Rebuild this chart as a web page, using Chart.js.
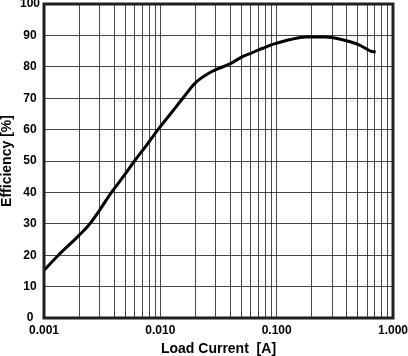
<!DOCTYPE html>
<html>
<head>
<meta charset="utf-8">
<script src="https://cdn.jsdelivr.net/npm/chart.js@4/dist/chart.umd.min.js"></script>
<style>
html,body{margin:0;padding:0;background:#fff;}
#wrap{width:408px;height:356px;position:relative;}
</style>
</head>
<body>
<div id="wrap"><canvas id="c" width="408" height="356"></canvas></div>
<script>
const loadCurrent = [0.001, 0.00133, 0.002, 0.00248, 0.003, 0.0038, 0.0048, 0.006, 0.0076, 0.00955, 0.0124, 0.0156, 0.02, 0.0265, 0.03, 0.04, 0.05, 0.06, 0.07, 0.08, 0.09, 0.1, 0.128, 0.178, 0.264, 0.367, 0.51, 0.643, 0.71];
const efficiency = [15.2, 20, 26.3, 30, 34.3, 40, 45, 50, 55, 60, 65.3, 70, 74.9, 78.1, 79.1, 81.0, 83.1, 84.3, 85.4, 86.2, 87.0, 87.5, 88.6, 89.5, 89.5, 88.6, 87.0, 85.0, 84.7];
const xDecades = [0.001, 0.01, 0.1, 1];
const xLabels = ['0.001', '0.010', '0.100', '1.000'];
const yTicks = [0, 10, 20, 30, 40, 50, 60, 70, 80, 90, 100];

const xTickValues = [];
for (let d = 0; d < xDecades.length - 1; d++) {
  for (let m = 1; m <= 9; m++) xTickValues.push(+(xDecades[d] * m).toPrecision(3));
}
xTickValues.push(xDecades[xDecades.length - 1]);

const FONT = '"Liberation Sans", Arial, sans-serif';
const frame = {
  id: 'frame',
  afterDatasetsDraw(chart) {
    const a = chart.chartArea, ctx = chart.ctx;
    ctx.save();
    ctx.strokeStyle = '#231f20';
    ctx.lineWidth = 3;
    ctx.strokeRect(a.left, a.top, a.right - a.left, a.bottom - a.top);
    ctx.restore();
  }
};

new Chart(document.getElementById('c'), {
  type: 'line',
  data: {
    datasets: [{
      data: loadCurrent.map((x, i) => ({x: x, y: efficiency[i]})),
      borderColor: '#000',
      borderWidth: 3,
      pointRadius: 0,
      fill: false,
      cubicInterpolationMode: 'monotone'
    }]
  },
  options: {
    responsive: false,
    animation: false,
    devicePixelRatio: 1,
    layout: {padding: {left: 0, right: 15, top: 4, bottom: 0}},
    plugins: {legend: {display: false}, tooltip: {enabled: false}},
    scales: {
      x: {
        type: 'logarithmic',
        min: 0.001, max: 1,
        afterBuildTicks(s) { s.ticks = xTickValues.map(v => ({value: v})); },
        afterFit(s) { s.height = 38; s.paddingLeft = 0; s.paddingRight = 0; },
        grid: {color: 'rgba(0,0,0,0.72)', lineWidth: 1, drawTicks: false},
        border: {display: false},
        ticks: {
          autoSkip: false, maxRotation: 0, minRotation: 0, padding: 5,
          color: '#000',
          font: {family: FONT, size: 12, weight: 'bold'},
          callback(v) { const i = xDecades.findIndex(d => Math.abs(d - v) < v * 1e-6); return i >= 0 ? xLabels[i] : ''; }
        },
        title: {display: true, text: 'Load Current  [A]', color: '#000', padding: {top: 0, bottom: 0},
          font: {family: FONT, size: 14, weight: 'bold', lineHeight: 1}}
      },
      y: {
        min: 0, max: 100,
        afterBuildTicks(s) { s.ticks = yTicks.map(v => ({value: v})); },
        afterFit(s) { s.width = 44; s.paddingTop = 0; s.paddingBottom = 0; },
        grid: {color: 'rgba(0,0,0,0.72)', lineWidth: 1, drawTicks: false},
        border: {display: false},
        ticks: {
          padding: 4, crossAlign: 'center', color: '#000',
          font: {family: FONT, size: 12, weight: 'bold'}
        },
        title: {display: true, text: 'Efficiency [%]', color: '#000', padding: {top: 0, bottom: 0},
          font: {family: FONT, size: 14, weight: 'bold', lineHeight: 1}}
      }
    }
  },
  plugins: [frame]
});
</script>
</body>
</html>
